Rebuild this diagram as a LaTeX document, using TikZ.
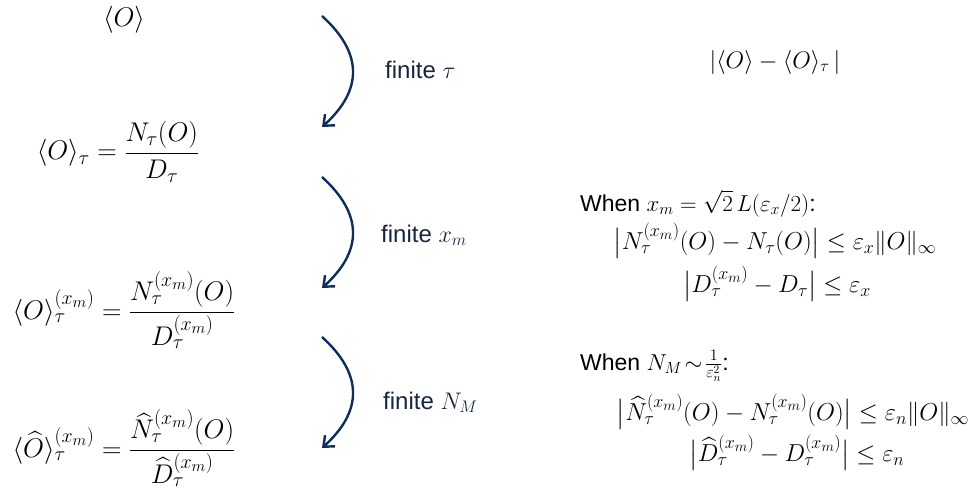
\RequirePackage{fix-cm}
\documentclass[tikz,border=0pt]{standalone}
\usepackage{amsmath}
\usepackage{fontspec}
\newfontfamily\arialf{Liberation Sans}
\usetikzlibrary{arrows.meta}
\DeclareMathSizes{27}{27}{20}{16}
\DeclareMathSizes{24.5}{24.5}{18}{14.5}
\definecolor{navy}{HTML}{0E2D5A}
\definecolor{labtxt}{HTML}{16263E}
\tikzset{
  x=1pt, y=-1pt,
  formula/.style={inner sep=0pt, font=\fontsize{27}{32}\selectfont},
  flab/.style={inner sep=0pt, anchor=base west, text=labtxt, font=\fontsize{24}{29}\selectfont\arialf},
  when/.style={inner sep=0pt, anchor=base west, font=\fontsize{23}{28}\selectfont\arialf},
  bound/.style={inner sep=0pt, font=\fontsize{24.5}{30}\selectfont},
  curvearrow/.style={draw=navy, line width=2.4pt, -{Straight Barb[length=9pt,width=15pt,line width=2.4pt]}}
}
\begin{document}
\begin{tikzpicture}
\useasboundingbox (0,0) rectangle (974,490);
% left column
\node[formula] (o1) at (124,20) {$\langle O\rangle$};
\node[formula] (o2) at (118,152) {$\langle O\rangle_\tau=\dfrac{N_\tau(O)}{D_\tau}$};
\node[formula] (o3) at (124,310) {$\langle O\rangle_\tau^{(x_m)}=\dfrac{N_\tau^{(x_m)}(O)}{D_\tau^{(x_m)}}$};
\node[formula] (o4) at (124,448) {$\langle \widehat{O}\rangle_\tau^{(x_m)}=\dfrac{\widehat{N}_\tau^{(x_m)}(O)}{\widehat{D}_\tau^{(x_m)}}$};
% arrows
\coordinate (a1s) at (322,16);  \coordinate (a1e) at (322,127);
\coordinate (a2s) at (322,177); \coordinate (a2e) at (322,288);
\coordinate (a3s) at (322,337); \coordinate (a3e) at (322,448);
\draw[curvearrow] (a1s) .. controls +(41,37) and +(41,-37) .. (a1e);
\draw[curvearrow] (a2s) .. controls +(41,37) and +(41,-37) .. (a2e);
\draw[curvearrow] (a3s) .. controls +(41,37) and +(41,-37) .. (a3e);
\node[flab] (l1) at (385,78) {finite $\tau$};
\node[flab] (l2) at (381,242) {finite $x_m$};
\node[flab] (l3) at (383,409) {finite $N_M$};
% right column
\node[bound, font=\fontsize{24}{29}\selectfont] (r1) at (775,62) {$|\langle O\rangle-\langle O\rangle_\tau\,|$};
\node[when] (w2) at (580,211) {When $x_m=\sqrt{2}\,L(\varepsilon_x/2)$:};
\node[bound] (b21) at (775,241) {$\bigl|N_\tau^{(x_m)}(O)-N_\tau(O)\bigr|\le\varepsilon_x\|O\|_\infty$};
\node[bound] (b22) at (777,284) {$\bigl|D_\tau^{(x_m)}-D_\tau\bigr|\le\varepsilon_x$};
\node[when] (w3) at (580,370) {When $N_M\!\sim\!\frac{1}{\varepsilon_n^2}$:};
\node[bound] (b31) at (793,412) {$\bigl|\widehat{N}_\tau^{(x_m)}(O)-N_\tau^{(x_m)}(O)\bigr|\le\varepsilon_n\|O\|_\infty$};
\node[bound] (b32) at (797,453) {$\bigl|\widehat{D}_\tau^{(x_m)}-D_\tau^{(x_m)}\bigr|\le\varepsilon_n$};
\end{tikzpicture}
\end{document}
